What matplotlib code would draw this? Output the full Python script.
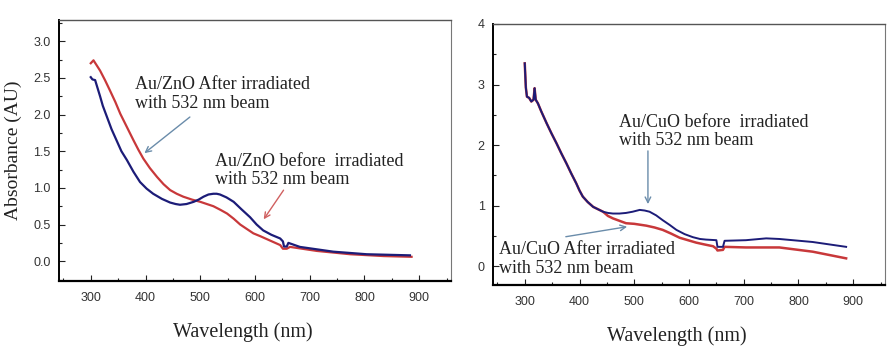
import numpy as np
import matplotlib as mpl
mpl.use('Agg')
import matplotlib.pyplot as plt
from matplotlib.ticker import MultipleLocator

# Au/ZnO panel (left)
zno_blue_x = [300, 303, 308, 317, 322, 329, 338, 347, 356, 366, 378, 390, 402, 414, 430, 445,
              455, 463, 475, 488, 497, 506, 515, 524, 530, 536, 548, 561, 575, 591, 603, 615,
              630, 646, 651, 653, 658, 661, 682, 743, 804, 883]
zno_blue_y = [2.51, 2.48, 2.47, 2.25, 2.12, 1.98, 1.80, 1.65, 1.50, 1.38, 1.22, 1.08, 0.99,
              0.92, 0.85, 0.80, 0.78, 0.77, 0.78, 0.81, 0.84, 0.88, 0.91, 0.92, 0.92, 0.91,
              0.87, 0.81, 0.71, 0.60, 0.50, 0.42, 0.36, 0.31, 0.27, 0.20, 0.20, 0.25, 0.195,
              0.13, 0.095, 0.08]
zno_red_x = [300, 305, 317, 326, 335, 345, 354, 366, 378, 387, 396, 408, 421, 433, 445, 457,
             469, 485, 500, 512, 524, 537, 549, 561, 573, 585, 597, 610, 622, 634, 646, 651,
             658, 664, 713, 774, 835, 886]
zno_red_y = [2.70, 2.74, 2.60, 2.47, 2.33, 2.17, 2.01, 1.83, 1.65, 1.52, 1.40, 1.27, 1.15,
             1.05, 0.97, 0.92, 0.88, 0.84, 0.81, 0.78, 0.75, 0.70, 0.65, 0.58, 0.50, 0.44,
             0.38, 0.34, 0.30, 0.26, 0.22, 0.17, 0.17, 0.195, 0.14, 0.095, 0.07, 0.06]

# Au/CuO panel (right)
cuo_common_x = [300, 302, 304, 308, 312, 316, 318, 320, 324, 330, 340, 349, 358, 367, 376,
                385, 394, 400, 406, 415, 425, 434, 443]
cuo_common_y = [3.35, 2.95, 2.80, 2.78, 2.72, 2.75, 2.94, 2.75, 2.69, 2.56, 2.36, 2.19, 2.03,
                1.86, 1.70, 1.53, 1.37, 1.25, 1.15, 1.06, 0.98, 0.94, 0.90]
cuo_blue_x = [452, 461, 473, 485, 497, 510, 519, 528, 540, 552, 565, 577, 592, 607, 620, 631,
              650, 652, 662, 665, 704, 741, 765, 826, 887]
cuo_blue_y = [0.88, 0.87, 0.87, 0.88, 0.90, 0.93, 0.92, 0.90, 0.84, 0.76, 0.68, 0.60, 0.53,
              0.48, 0.45, 0.44, 0.43, 0.32, 0.32, 0.42, 0.43, 0.46, 0.45, 0.40, 0.32]
cuo_red_x = [452, 461, 473, 485, 500, 522, 537, 552, 567, 583, 598, 613, 628, 644, 650, 652,
             662, 665, 704, 765, 826, 887]
cuo_red_y = [0.83, 0.79, 0.75, 0.71, 0.70, 0.67, 0.64, 0.60, 0.54, 0.47, 0.43, 0.39, 0.36,
             0.33, 0.29, 0.26, 0.27, 0.32, 0.31, 0.31, 0.24, 0.13]

BLUE = '#1c1c78'
RED = '#c8383a'
ARROW_BLUE = '#6a8caa'
ARROW_RED = '#d06060'
SERIF = ['Liberation Serif', 'DejaVu Serif']
SANS = ['Liberation Sans', 'DejaVu Sans']

fig = plt.figure(figsize=(8.92, 3.58), dpi=100)
W, H = 892.0, 358.0
ax1 = fig.add_axes([59 / W, 1 - 281 / H, (451 - 59) / W, (281 - 20) / H])
ax2 = fig.add_axes([493 / W, 1 - 285 / H, (885 - 493) / W, (285 - 24) / H])


def style(ax):
    ax.set_xlim(242, 958)
    ax.xaxis.set_major_locator(MultipleLocator(100))
    ax.xaxis.set_minor_locator(MultipleLocator(50))
    ax.tick_params(which='both', direction='in', colors='#222222', labelcolor='#333333',
                   labelsize=9, width=0.8)
    ax.tick_params(which='major', length=4, pad=8)
    ax.tick_params(which='minor', length=2.5)
    ax.tick_params(axis='y', pad=6)
    for lab in ax.get_xticklabels() + ax.get_yticklabels():
        lab.set_family(SANS)
    ax.spines['left'].set_linewidth(1.4)
    ax.spines['bottom'].set_linewidth(1.6)
    ax.spines['left'].set_color('black')
    ax.spines['bottom'].set_color('black')
    ax.spines['top'].set_color('#555555')
    ax.spines['right'].set_color('#777777')
    ax.spines['top'].set_linewidth(1.0)
    ax.spines['right'].set_linewidth(0.8)
    ax.set_xlabel('Wavelength (nm)', family=SERIF, fontsize=14.5, labelpad=12, color='#222222')
    ax.xaxis.set_label_coords(0.47, -0.16)


# left panel
ax1.plot(zno_red_x, zno_red_y, color=RED, lw=1.6)
ax1.plot(zno_blue_x, zno_blue_y, color=BLUE, lw=1.6)
ax1.set_ylim(-0.27, 3.29)
ax1.yaxis.set_major_locator(MultipleLocator(0.5))
ax1.yaxis.set_minor_locator(MultipleLocator(0.25))
ax1.yaxis.set_major_formatter(mpl.ticker.FormatStrFormatter('%.1f'))
style(ax1)
ax1.set_ylabel('Absorbance (AU)', family=SERIF, fontsize=14, labelpad=8, color='#222222')

ax1.text(381, 2.52, 'Au/ZnO After irradiated\nwith 532 nm beam', family=SERIF, fontsize=13,
         va='top', ha='left', linespacing=1.1, color='#222222')
ax1.annotate('', xy=(394, 1.45), xytext=(485, 1.99),
             arrowprops=dict(arrowstyle='->', color=ARROW_BLUE, lw=1.0))
ax1.text(527, 1.48, 'Au/ZnO before  irradiated\nwith 532 nm beam', family=SERIF, fontsize=13,
         va='top', ha='left', linespacing=1.1, color='#222222')
ax1.annotate('', xy=(613, 0.54), xytext=(655, 1.0),
             arrowprops=dict(arrowstyle='->', color=ARROW_RED, lw=1.0))

# right panel
ax2.plot(cuo_common_x + cuo_red_x, cuo_common_y + cuo_red_y, color=RED, lw=1.8)
ax2.plot(cuo_common_x + cuo_blue_x, cuo_common_y + cuo_blue_y, color=BLUE, lw=1.4)
ax2.set_ylim(-0.31, 4.0)
ax2.yaxis.set_major_locator(MultipleLocator(1))
ax2.yaxis.set_minor_locator(MultipleLocator(0.5))
style(ax2)

ax2.text(472, 2.52, 'Au/CuO before  irradiated\nwith 532 nm beam', family=SERIF, fontsize=13,
         va='top', ha='left', linespacing=1.1, color='#222222')
ax2.annotate('', xy=(525, 0.98), xytext=(525, 1.95),
             arrowprops=dict(arrowstyle='->', color=ARROW_BLUE, lw=1.0))
ax2.text(253, 0.41, 'Au/CuO After irradiated\nwith 532 nm beam', family=SERIF, fontsize=13,
         va='top', ha='left', linespacing=1.1, color='#222222')
ax2.annotate('', xy=(492, 0.66), xytext=(370, 0.48),
             arrowprops=dict(arrowstyle='->', color=ARROW_BLUE, lw=1.0))

fig.savefig('out.png', dpi=100)
